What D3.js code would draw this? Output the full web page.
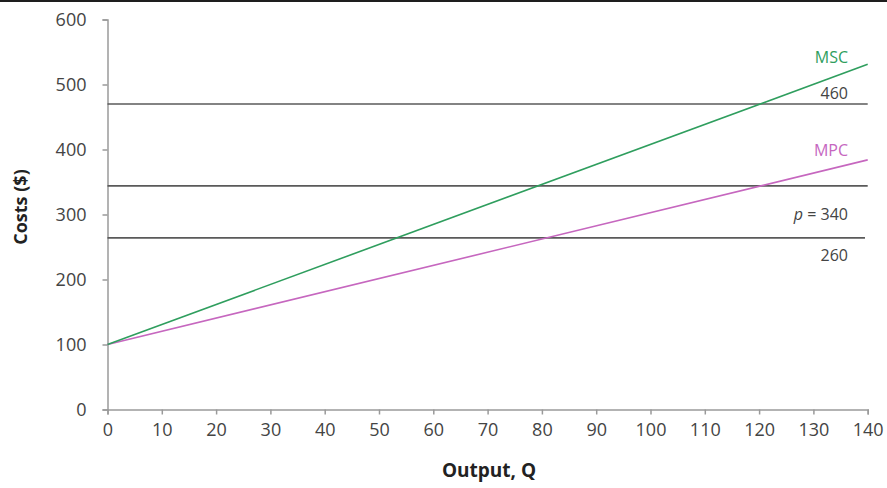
<!DOCTYPE html>
<html><head><meta charset="utf-8">
<script src="https://cdn.jsdelivr.net/npm/d3@7"></script>
<style>
html,body{margin:0;padding:0;background:#fff;}
svg{display:block;font-family:"Open Sans",sans-serif;}
</style></head>
<body>
<svg id="chart" width="887" height="488"></svg>
<script>
// Data
const xTicks = [0,10,20,30,40,50,60,70,80,90,100,110,120,130,140];
const yTicks = [0,100,200,300,400,500,600];
const qValues = [0,140];
const mscValues = [100,531];
const mpcValues = [100,384];
const hLineValues = [470,344,264];
const hLineEnds = [140,140,139.5];
const hLineLabels = ["460","p = 340","260"];
const curveLabels = ["MSC","MPC"];

const svg = d3.select("#chart");
svg.append("rect").attr("x",0).attr("y",0).attr("width",887).attr("height",2).attr("fill","#1e1e1e");

const x = d3.scaleLinear().domain([0,140]).range([107.5,867.7]);
const y = d3.scaleLinear().domain([0,600]).range([409.5,19.5]);

// Axes
const yAxis = svg.append("g").attr("transform","translate(107.5,0)")
  .call(d3.axisLeft(y).tickValues(yTicks).tickSize(5).tickPadding(16).tickFormat(d3.format("d")));
const xAxis = svg.append("g").attr("transform","translate(0,409.5)")
  .call(d3.axisBottom(x).tickValues(xTicks).tickSize(5).tickPadding(9).tickFormat(d3.format("d")));
[yAxis,xAxis].forEach(a=>{
  a.select(".domain").attr("stroke","#9a9a9a").attr("stroke-width",1.5);
  a.selectAll(".tick line").attr("stroke","#9a9a9a").attr("stroke-width",1.5);
  a.selectAll(".tick text").attr("fill","#444").style("font-size","18px").style("font-family","'Open Sans',sans-serif");
});

// Horizontal lines
hLineValues.forEach((v,i)=>{
  svg.append("line").attr("x1",x(0)).attr("x2",x(hLineEnds[i]))
    .attr("y1",y(v)).attr("y2",y(v)).attr("stroke","#5a5a5a").attr("stroke-width",1.6);
});

const line = d3.line().x(d=>x(d[0])).y(d=>y(d[1]));
svg.append("path").datum(qValues.map((q,i)=>[q,mpcValues[i]])).attr("d",line)
  .attr("fill","none").attr("stroke","#c667bf").attr("stroke-width",1.6);
svg.append("path").datum(qValues.map((q,i)=>[q,mscValues[i]])).attr("d",line)
  .attr("fill","none").attr("stroke","#2f9e5e").attr("stroke-width",1.6);

// Labels
const lblX = 848;
svg.append("text").attr("x",lblX).attr("y",57).attr("dy","0.35em").attr("text-anchor","end")
  .attr("fill","#2f9e5e").style("font-size","16px").text(curveLabels[0]);
svg.append("text").attr("x",lblX).attr("y",150).attr("dy","0.35em").attr("text-anchor","end")
  .attr("fill","#c667bf").style("font-size","16px").text(curveLabels[1]);
const lblY = [93,214,255];
hLineLabels.forEach((t,i)=>{
  const tx = svg.append("text").attr("x",lblX).attr("y",lblY[i]).attr("dy","0.35em").attr("text-anchor","end")
    .attr("fill","#444").style("font-size","16px");
  if (t.startsWith("p")) {
    tx.append("tspan").style("font-style","italic").text("p");
    tx.append("tspan").text(" = 340");
  } else tx.text(t);
});

// Axis titles
svg.append("text").attr("x",489).attr("y",477).attr("text-anchor","middle")
  .attr("fill","#222").style("font-size","19px").style("font-weight","bold").text("Output, Q");
svg.append("text").attr("transform","translate(27,207) rotate(-90)").attr("text-anchor","middle")
  .attr("fill","#222").style("font-size","18px").style("font-weight","bold").text("Costs ($)");
</script>
</body></html>
